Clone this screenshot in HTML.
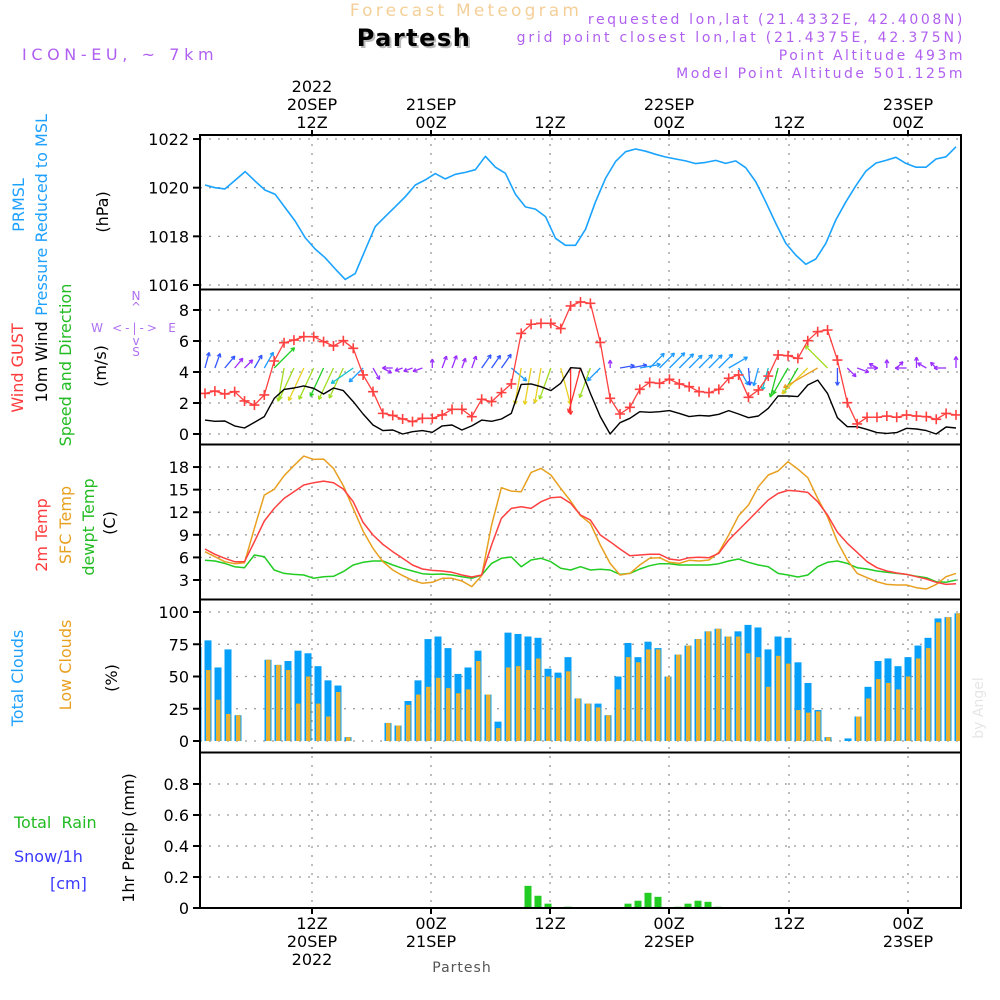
<!DOCTYPE html>
<html><head><meta charset="utf-8"><title>Forecast Meteogram Partesh</title>
<style>
html,body{margin:0;padding:0;background:#fff;width:1000px;height:1000px;overflow:hidden}
svg{display:block}
text{font-family:"DejaVu Sans","Liberation Sans",sans-serif}
</style></head>
<body>
<svg id="chart" width="1000" height="1000" viewBox="0 0 1000 1000">
<defs><clipPath id="plotclip"><rect x="200" y="135" width="761" height="773"/></clipPath></defs>
<g>
<text x="466" y="16" text-anchor="middle" font-size="17" fill="#f5cf98" letter-spacing="3.2">Forecast Meteogram</text>
<text x="416" y="48" text-anchor="middle" font-size="24" font-weight="bold" fill="#bbb" letter-spacing="1.5">Partesh</text>
<text x="414" y="46" text-anchor="middle" font-size="24" font-weight="bold" fill="#000" letter-spacing="1.5">Partesh</text>
<text x="22" y="60" font-size="16" fill="#b060f0" letter-spacing="4.6">ICON-EU, ~ 7km</text>
<text x="965" y="24" text-anchor="end" font-size="14" fill="#b060f0" letter-spacing="2.6">requested lon,lat (21.4332E, 42.4008N)</text>
<text x="965" y="42" text-anchor="end" font-size="14" fill="#b060f0" letter-spacing="2.8">grid point closest lon,lat (21.4375E, 42.375N)</text>
<text x="965" y="60" text-anchor="end" font-size="14" fill="#b060f0" letter-spacing="2.5">Point Altitude 493m</text>
<text x="965" y="78" text-anchor="end" font-size="14" fill="#b060f0" letter-spacing="2.5">Model Point Altitude 501.125m</text>
</g>
<g id="grid"></g>
<g id="marks" clip-path="url(#plotclip)"></g>
<g id="frame"></g>
<g id="labels"></g>
<g font-size="16">
<text transform="translate(24,205) rotate(-90)" text-anchor="middle" fill="#1ea0ff">PRMSL</text>
<text transform="translate(47,215) rotate(-90)" text-anchor="middle" fill="#1ea0ff">Pressure Reduced to MSL</text>
<text transform="translate(108,212) rotate(-90)" text-anchor="middle" fill="#000">(hPa)</text>
<text transform="translate(23,368) rotate(-90)" text-anchor="middle" fill="#ff3a3a">Wind GUST</text>
<text transform="translate(47,362) rotate(-90)" text-anchor="middle" fill="#000">10m Wind</text>
<text transform="translate(71,365) rotate(-90)" text-anchor="middle" fill="#22bb22">Speed and Direction</text>
<text transform="translate(106,366) rotate(-90)" text-anchor="middle" fill="#000">(m/s)</text>
<g font-size="12" fill="#b070f0">
<text x="136" y="300" text-anchor="middle">N</text>
<text x="136" y="311" text-anchor="middle">^</text>
<text x="97" y="332" text-anchor="middle">W</text>
<text x="136" y="332" text-anchor="middle" letter-spacing="3">&lt;-|-&gt;</text>
<text x="172" y="332" text-anchor="middle">E</text>
<text x="136" y="345" text-anchor="middle">v</text>
<text x="136" y="356" text-anchor="middle">S</text>
</g>
<text transform="translate(47,535) rotate(-90)" text-anchor="middle" fill="#ff3a3a">2m Temp</text>
<text transform="translate(71,525) rotate(-90)" text-anchor="middle" fill="#e8a020">SFC Temp</text>
<text transform="translate(94,527) rotate(-90)" text-anchor="middle" fill="#22bb22">dewpt Temp</text>
<text transform="translate(115,523) rotate(-90)" text-anchor="middle" fill="#000">(C)</text>
<text transform="translate(23,678) rotate(-90)" text-anchor="middle" fill="#1ea0ff">Total Clouds</text>
<text transform="translate(71,665) rotate(-90)" text-anchor="middle" fill="#e8a020">Low Clouds</text>
<text transform="translate(117,678) rotate(-90)" text-anchor="middle" fill="#000">(%)</text>
<text x="14" y="828" fill="#22bb22" xml:space="preserve">Total  Rain</text>
<text x="14" y="862" fill="#3a3aff">Snow/1h</text>
<text x="50" y="889" fill="#3a3aff">[cm]</text>
<text transform="translate(134,838) rotate(-90)" text-anchor="middle" fill="#000">1hr Precip (mm)</text>
</g>
<text transform="translate(983,708) rotate(-90)" text-anchor="middle" font-size="14" fill="#e6e6e6" font-family="Liberation Serif, serif">by Angel</text>
<text x="462" y="972" text-anchor="middle" font-size="14" fill="#555" font-family="Liberation Serif, serif" letter-spacing="1">Partesh</text>
</svg>
<script>
// ---- data ----
const timeTicks = [312, 431, 550, 669, 789, 908];
const topTickLines = [["2022","20SEP","12Z"],["","21SEP","00Z"],["","","12Z"],["","22SEP","00Z"],["","","12Z"],["","23SEP","00Z"]];
const bottomTickLines = [["12Z","20SEP","2022"],["00Z","21SEP",""],["12Z","",""],["00Z","22SEP",""],["12Z","",""],["00Z","23SEP",""]];
const pressureTicks = [1016, 1018, 1020, 1022];
const windTicks = [0, 2, 4, 6, 8];
const tempTicks = [3, 6, 9, 12, 15, 18];
const cloudTicks = [0, 25, 50, 75, 100];
const precipTicks = [0, 0.2, 0.4, 0.6, 0.8];
const precipTickLabels = ["0", "0.2", "0.4", "0.6", "0.8"];

const pressure = [1020.11,1020.0,1019.95,1020.3,1020.66,1020.27,1019.9,1019.73,1019.18,1018.63,1017.95,1017.48,1017.12,1016.66,1016.23,1016.47,1017.44,1018.4,1018.81,1019.22,1019.63,1020.11,1020.32,1020.58,1020.36,1020.55,1020.63,1020.74,1021.29,1020.84,1020.59,1019.73,1019.21,1019.12,1018.81,1017.92,1017.63,1017.63,1018.29,
1019.42,1020.38,1021.07,1021.48,1021.59,1021.5,1021.37,1021.26,1021.18,1021.1,1020.99,1021.04,1021.12,1021.0,1021.1,1020.82,1020.25,1019.42,1018.53,1017.71,1017.23,1016.85,1017.07,1017.71,1018.67,1019.42,1020.08,1020.68,1021.01,1021.12,1021.25,1021.0,1020.84,1020.84,1021.18,1021.27,1021.68];

const windGust = [2.62,2.77,2.58,2.73,2.13,1.87,2.52,4.71,5.89,6.06,6.28,6.28,5.96,5.68,6.02,5.53,3.81,2.73,1.33,1.2,0.97,0.8,1.01,1.01,1.23,1.59,1.59,1.12,2.24,2.09,2.67,3.23,6.49,7.08,7.14,7.14,6.8,8.26,8.52,
8.43,5.91,2.3,1.29,1.72,2.88,3.33,3.27,3.53,3.23,3.05,2.73,2.67,2.88,3.59,3.81,2.37,2.84,3.74,5.1,5.05,4.88,6.02,6.6,6.71,4.77,2.02,0.65,1.08,1.08,1.16,1.08,1.23,1.16,1.12,0.95,1.33,1.23];

const wind10m = [0.9,0.82,0.84,0.52,0.39,0.75,1.12,2.3,2.88,2.97,3.1,2.95,2.58,2.97,2.8,2.09,1.29,0.58,0.22,0.26,0,0.15,0.22,0.11,0.52,0.58,0.26,0.52,0.9,0.82,0.97,1.33,3.2,3.23,3.05,2.8,3.27,4.28,4.24,
2.62,1.12,0,0.73,1.01,1.44,1.4,1.44,1.51,1.33,1.12,1.2,1.16,1.27,1.51,1.29,1.05,1.16,1.66,2.45,2.45,2.41,3.16,3.48,2.62,1.05,0.47,0.47,0.3,0.09,0.04,0.09,0.37,0.32,0.22,0,0.45,0.39];

// wind "towards" direction, compass degrees (0 = N/up, 90 = E/right)
const windDir = [15,20,40,40,45,30,30,45,190,205,205,205,205,205,205,235,225,150,120,270,250,250,250,0,20,20,20,20,35,35,35,130,190,190,190,200,165,180,195,
200,225,0,80,80,80,45,45,45,45,45,45,45,45,60,150,175,195,195,195,210,210,225,240,315,180,135,110,90,300,0,45,270,0,300,315,270,0];

const temp2m = [7.12,6.41,5.88,5.43,5.43,8.09,10.83,12.51,13.84,14.73,15.61,15.92,16.14,15.92,15.08,13.4,10.65,8.97,7.73,6.76,5.88,4.99,4.46,4.28,4.19,4.02,3.66,3.4,3.66,7.65,11.19,12.51,12.73,12.51,13.4,13.93,14.02,13.18,11.63,
10.96,8.97,8.09,7.12,6.23,6.32,6.41,6.41,5.79,5.61,5.96,6.01,5.96,6.54,8.31,9.64,10.96,12.29,13.62,14.5,14.9,14.81,14.64,13.4,11.63,9.33,7.87,6.67,5.43,4.64,4.19,3.93,3.75,3.44,3.13,2.69,2.42,2.51];

const tempSfc = [6.76,6.1,5.43,5.17,5.3,9.86,14.28,15.04,16.85,18.18,19.46,19.02,19.06,17.82,15.52,12.51,9.5,7.2,5.43,4.33,3.58,2.96,2.56,2.69,3.22,3.22,2.87,2.12,3.58,10.3,15.26,14.81,14.73,17.29,17.82,16.94,15.17,13.49,11.54,
10.5,7.65,5.21,3.66,3.88,4.99,5.88,5.96,5.35,5.21,5.61,5.52,5.65,6.67,8.97,11.54,12.96,15.39,16.94,17.47,18.71,17.73,16.58,13.84,11.41,8.09,5.65,3.88,3.31,2.78,2.42,2.34,2.34,1.98,1.81,2.42,3.44,3.88];

const dewpt = [5.61,5.52,5.21,4.77,4.64,6.32,6.1,4.33,3.88,3.75,3.66,3.22,3.44,3.49,4.11,4.99,5.35,5.52,5.52,4.99,4.55,4.19,3.84,3.75,3.8,3.66,3.44,3.22,3.66,5.21,5.88,6.05,4.77,5.65,5.88,5.43,4.55,4.33,4.77,
4.33,4.42,4.33,3.75,3.88,4.46,4.9,5.17,5.17,4.99,4.99,4.99,4.99,5.17,5.52,5.79,5.35,4.99,4.77,3.88,3.66,3.4,3.66,4.77,5.35,5.52,5.21,4.64,4.46,4.19,4.02,3.88,3.75,3.49,3.31,2.78,2.69,3.0];

const totalClouds = [73,78,57,71,20,0,0,63,59,62,70,68,58,47,43,3,0,0,0,14,12,31,47,79,81,72,52,57,70,36,15,84,83,81,80,56,53,65,33,
29,29,20,50,76,65,77,72,50,67,74,79,85,87,81,85,90,88,71,81,80,61,45,24,3,0,2,19,42,62,64,58,65,74,80,95,96,99];
const lowClouds = [59,55,32,21,20,0,0,63,59,55,29,50,29,19,38,3,0,0,0,14,12,28,36,42,49,41,37,40,62,36,10,57,58,55,64,50,49,54,33,
29,26,20,40,65,61,71,71,50,67,74,79,85,87,81,81,68,65,42,66,60,24,22,23,3,0,0,19,33,48,45,40,50,64,72,92,96,99];

const precipHours = [33,34,35,37,43,44,45,46,48,49,50,51,52];
const precipValues = [0.143,0.079,0.028,0.008,0.028,0.047,0.098,0.072,0.008,0.028,0.047,0.04,0.008];

// ---- scales ----
const NS = 'http://www.w3.org/2000/svg';
const X0 = 200, X1 = 961;
function xBar(i){ return 198 + i * 10; }
function xLine(i, n){ return 205 + i * (956 - 205) / (n - 1); }
function yPres(v){ return 285 - (v - 1016) * 24.33; }
function yWind(v){ return 434 - v * 15.5; }
function yTemp(v){ return 580 - (v - 3) * 7.53; }
function yCloud(v){ return 741 - v * 1.29; }
function yPrecip(v){ return 908 - v * 155; }

function mk(tag, attrs, parent){
  const e = document.createElementNS(NS, tag);
  for (const k in attrs) e.setAttribute(k, attrs[k]);
  parent.appendChild(e);
  return e;
}
const grid = document.getElementById('grid');
const marks = document.getElementById('marks');
const frame = document.getElementById('frame');
const labels = document.getElementById('labels');

timeTicks.forEach(function(x){
  const l = mk('line', {x1:x, x2:x, y1:135, y2:908, stroke:'#999', 'stroke-width':1.3, 'stroke-dasharray':'2,7'}, grid);
  
  
});
function hGrid(ticks, yf, name){
  ticks.forEach(function(t){
    const y = yf(t);
    const l = mk('line', {x1:X0, x2:X1, y1:y, y2:y, stroke:'#999', 'stroke-width':1.3, 'stroke-dasharray':'2,7'}, grid);
    
    
    const tk = mk('line', {x1:193, x2:200, y1:y, y2:y, stroke:'#000', 'stroke-width':2}, frame);
    
    
  });
}
hGrid(pressureTicks, yPres, 'pressure');
hGrid(windTicks, yWind, 'wind');
hGrid(tempTicks, yTemp, 'temp');
hGrid(cloudTicks, yCloud, 'cloud');
hGrid(precipTicks, yPrecip, 'precip');

function yLabels(ticks, txt, yf, name){
  ticks.forEach(function(t, i){
    const e = mk('text', {x:189, y:yf(t) + 6, 'text-anchor':'end', 'font-size':16, fill:'#000'}, labels);
    e.textContent = txt[i];
    
    
  });
}
yLabels(pressureTicks, pressureTicks.map(String), yPres, 'pressure');
yLabels(windTicks, windTicks.map(String), yWind, 'wind');
yLabels(tempTicks, tempTicks.map(String), yTemp, 'temp');
yLabels(cloudTicks, cloudTicks.map(String), yCloud, 'cloud');
yLabels(precipTicks, precipTickLabels, yPrecip, 'precip');

timeTicks.forEach(function(x, i){
  const top = topTickLines[i], bot = bottomTickLines[i];
  [92, 110, 128].forEach(function(y, j){
    if (!top[j]) return;
    const e = mk('text', {x:x, y:y, 'text-anchor':'middle', 'font-size':16, fill:'#000'}, labels);
    e.textContent = top[j];
    
    
  });
  [929, 947, 965].forEach(function(y, j){
    if (!bot[j]) return;
    const e = mk('text', {x:x, y:y, 'text-anchor':'middle', 'font-size':16, fill:'#000'}, labels);
    e.textContent = bot[j];
    
    
  });
  const t1 = mk('line', {x1:x, x2:x, y1:135, y2:130, stroke:'#000', 'stroke-width':2}, frame);
  
  
  const t2 = mk('line', {x1:x, x2:x, y1:908, y2:914, stroke:'#000', 'stroke-width':2}, frame);
  
  
});

function line(vals, yf, color, w, name){
  const n = vals.length;
  const pts = vals.map(function(v, i){ return xLine(i, n).toFixed(1) + ',' + yf(v).toFixed(1); }).join(' ');
  const p = mk('polyline', {points:pts, fill:'none', stroke:color, 'stroke-width':w, 'stroke-linejoin':'round'}, marks);
  
  
  return p;
}
line(pressure, yPres, '#1aa3ff', 1.6, 'pressure-line');

function arrowColor(s){
  if (s < 0.7) return '#9b30ff';
  if (s < 1.1) return '#3355ff';
  if (s < 1.6) return '#1e9bff';
  if (s < 2.1) return '#16c0d0';
  if (s < 2.6) return '#22cc22';
  if (s < 3.0) return '#a0dd22';
  if (s < 3.3) return '#e8d020';
  if (s < 4.0) return '#e8a020';
  return '#ff3030';
}
windDir.forEach(function(d, i){
  const s = wind10m[i];
  const L = 8 + s * 9;
  const a = d * Math.PI / 180;
  const x0 = xLine(i, windDir.length), y0 = 368;
  const x1 = x0 + Math.sin(a) * L, y1 = y0 - Math.cos(a) * L;
  const c = arrowColor(s);
  const g = mk('g', {stroke:c, 'stroke-width':1.3, fill:'none'}, marks);
  
  
  mk('line', {x1:x0, y1:y0, x2:x1, y2:y1}, g);
  const h = 4;
  [a + Math.PI - 0.5, a + Math.PI + 0.5].forEach(function(b){
    mk('line', {x1:x1, y1:y1, x2:x1 + Math.sin(b) * h, y2:y1 - Math.cos(b) * h}, g);
  });
});
line(wind10m, yWind, '#000', 1.4, 'wind-10m-line');
line(windGust, yWind, '#ff4040', 1.3, 'wind-gust-line');
windGust.forEach(function(v, i){
  const x = xLine(i, windGust.length), y = yWind(v);
  const g = mk('path', {d:'M' + (x - 5) + ' ' + y + 'h10M' + x + ' ' + (y - 5) + 'v10', stroke:'#ff4040', 'stroke-width':1.6}, marks);
  
  
});

line(dewpt, yTemp, '#22cc22', 1.5, 'dewpt-line');
line(tempSfc, yTemp, '#e8a020', 1.5, 'sfc-temp-line');
line(temp2m, yTemp, '#ff4040', 1.5, 'temp-2m-line');

totalClouds.forEach(function(v, i){
  const x = xBar(i);
  const b = mk('rect', {x:x - 3.5, y:yCloud(v), width:7, height:yCloud(0) - yCloud(v), fill:'#069ffa'}, marks);
  
  
  const lv = lowClouds[i];
  const o = mk('rect', {x:x - 2, y:yCloud(lv), width:4.5, height:yCloud(0) - yCloud(lv), fill:'#e8b030'}, marks);
  
  
});

precipHours.forEach(function(h, i){
  const v = precipValues[i];
  const b = mk('rect', {x:xBar(h) - 3.5, y:yPrecip(v), width:7, height:yPrecip(0) - yPrecip(v), fill:'#22cc22'}, marks);
  
  
});

const outer = mk('rect', {x:X0, y:135, width:X1 - X0, height:908 - 135, fill:'none', stroke:'#000', 'stroke-width':2}, frame);


[289.5, 444.5, 599.5, 752.5].forEach(function(y){
  const l = mk('line', {x1:X0, x2:X1, y1:y, y2:y, stroke:'#000', 'stroke-width':2}, frame);
  
  
});
</script>
</body></html>
